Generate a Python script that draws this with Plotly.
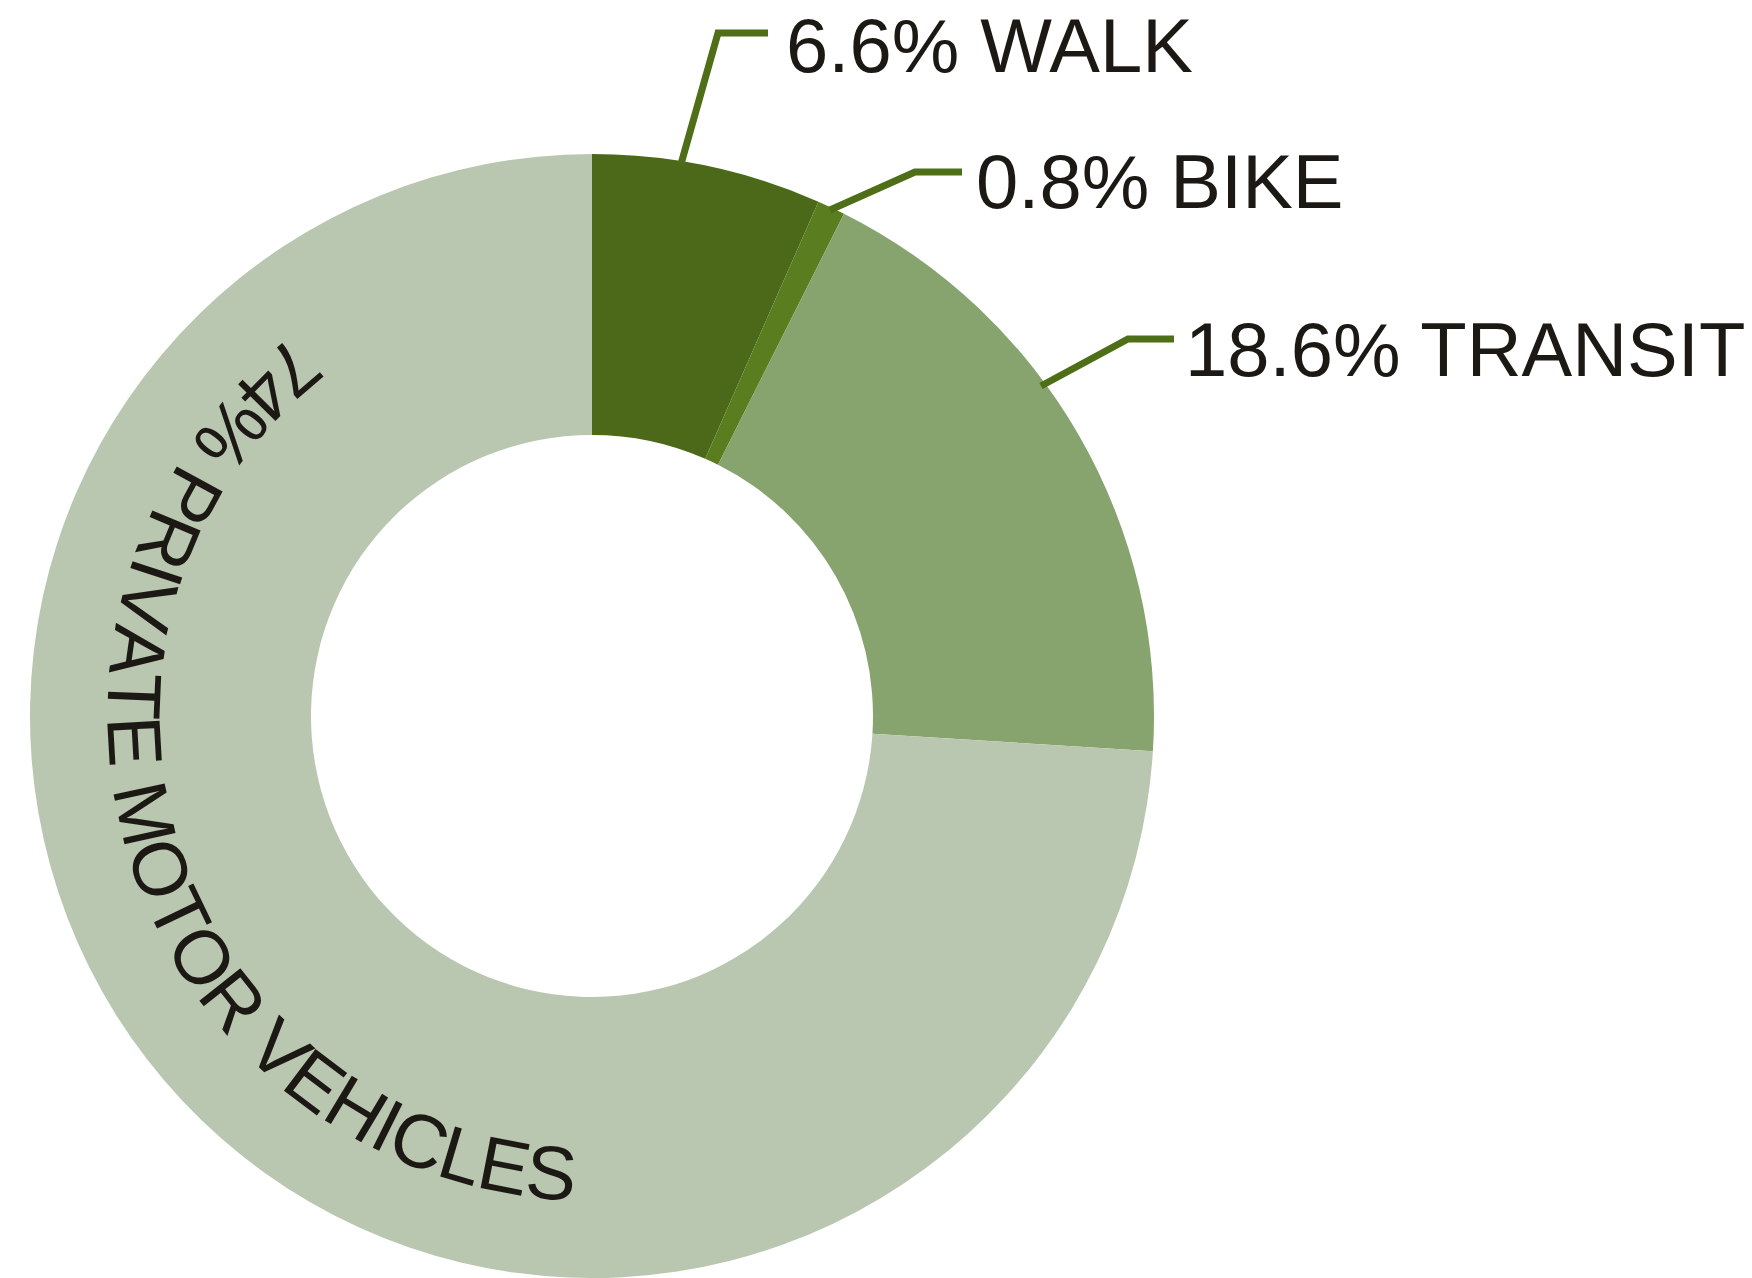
import math
import plotly.graph_objects as go

# ---------------- data ----------------
categories = ["WALK", "BIKE", "TRANSIT", "PRIVATE MOTOR VEHICLES"]
values = [6.6, 0.8, 18.6, 74]
colors = ["#4b6918", "#5a7e1f", "#87a36e", "#b9c7b0"]

# ---------------- layout constants ----------------
W, H = 1752, 1278
CX, CY, R = 592, 716, 562          # pie centre / outer radius in px
FONT = "Liberation Sans, Arial, Helvetica, sans-serif"
FS = 76
TXT = "#1c1814"
LINE = "#4e6e17"


def px(x):
    return x / W


def py(y):
    return 1 - y / H


fig = go.Figure()
fig.add_trace(go.Pie(
    labels=categories,
    values=values,
    sort=False,
    direction="clockwise",
    rotation=0,
    hole=0.5,
    marker=dict(colors=colors, line=dict(width=0)),
    textinfo="none",
    hoverinfo="label+percent",
    showlegend=False,
    domain=dict(x=[px(CX - R), px(CX + R)], y=[py(CY + R), py(CY - R)]),
))

annotations = []
shapes = []

# ---------------- outside labels with leader lines ----------------
label_pos = [  # (text-left x, cap-centre y, leader polyline)
    (784, 45.5, [(681, 164), (718, 33), (768, 33)]),
    (974, 181.5, [(830, 210), (915, 172), (962, 172)]),
    (1183, 350, [(1041, 386), (1128, 339), (1174, 339)]),
]
for i, (lx, ly, pts) in enumerate(label_pos):
    txt = f"{values[i]:g}% {categories[i]}"
    annotations.append(dict(
        text=txt, x=px(lx), y=py(ly), xref="paper", yref="paper",
        xanchor="left", yanchor="middle", showarrow=False,
        font=dict(family=FONT, size=FS, color=TXT),
    ))
    path = "M " + " L ".join(f"{px(x)},{py(y)}" for x, y in pts)
    shapes.append(dict(type="path", path=path, xref="paper", yref="paper",
                       line=dict(color=LINE, width=7)))

# ---------------- curved label inside the big slice ----------------
curved = f"{values[3]:g}% {categories[3]}"
adv = {"0": 556, "1": 556, "2": 556, "3": 556, "4": 556, "5": 556, "6": 556,
       "7": 556, "8": 556, "9": 556, "%": 889, " ": 278, "P": 667, "R": 722,
       "I": 278, "V": 667, "A": 667, "T": 611, "E": 667, "M": 833, "O": 778,
       "H": 722, "C": 722, "L": 556, "S": 667}
R_TEXT = 458          # radius of character centres
R_BASE = 492          # radius used for spacing (baseline)
THETA0 = 130.6        # angle of first character centre (deg, math convention)
s = 0.0
first_w = adv[curved[0]] / 1000 * FS
for k, ch in enumerate(curved):
    w = adv.get(ch, 600) / 1000 * FS
    centre = s + w / 2 - first_w / 2
    s += w
    if ch == " ":
        continue
    th = THETA0 + math.degrees(centre / R_BASE)
    t = math.radians(th)
    x = CX + R_TEXT * math.cos(t)
    y = CY - R_TEXT * math.sin(t)
    ang = -(th + 90)
    while ang <= -180:
        ang += 360
    while ang > 180:
        ang -= 360
    annotations.append(dict(
        text=ch, x=px(x), y=py(y), xref="paper", yref="paper",
        xanchor="center", yanchor="middle", showarrow=False, textangle=ang,
        font=dict(family=FONT, size=FS, color=TXT),
    ))

fig.update_layout(
    width=W, height=H,
    margin=dict(l=0, r=0, t=0, b=0),
    paper_bgcolor="white", plot_bgcolor="white",
    annotations=annotations, shapes=shapes,
    showlegend=False,
)

fig.write_html("out.html", config={"displayModeBar": False})
